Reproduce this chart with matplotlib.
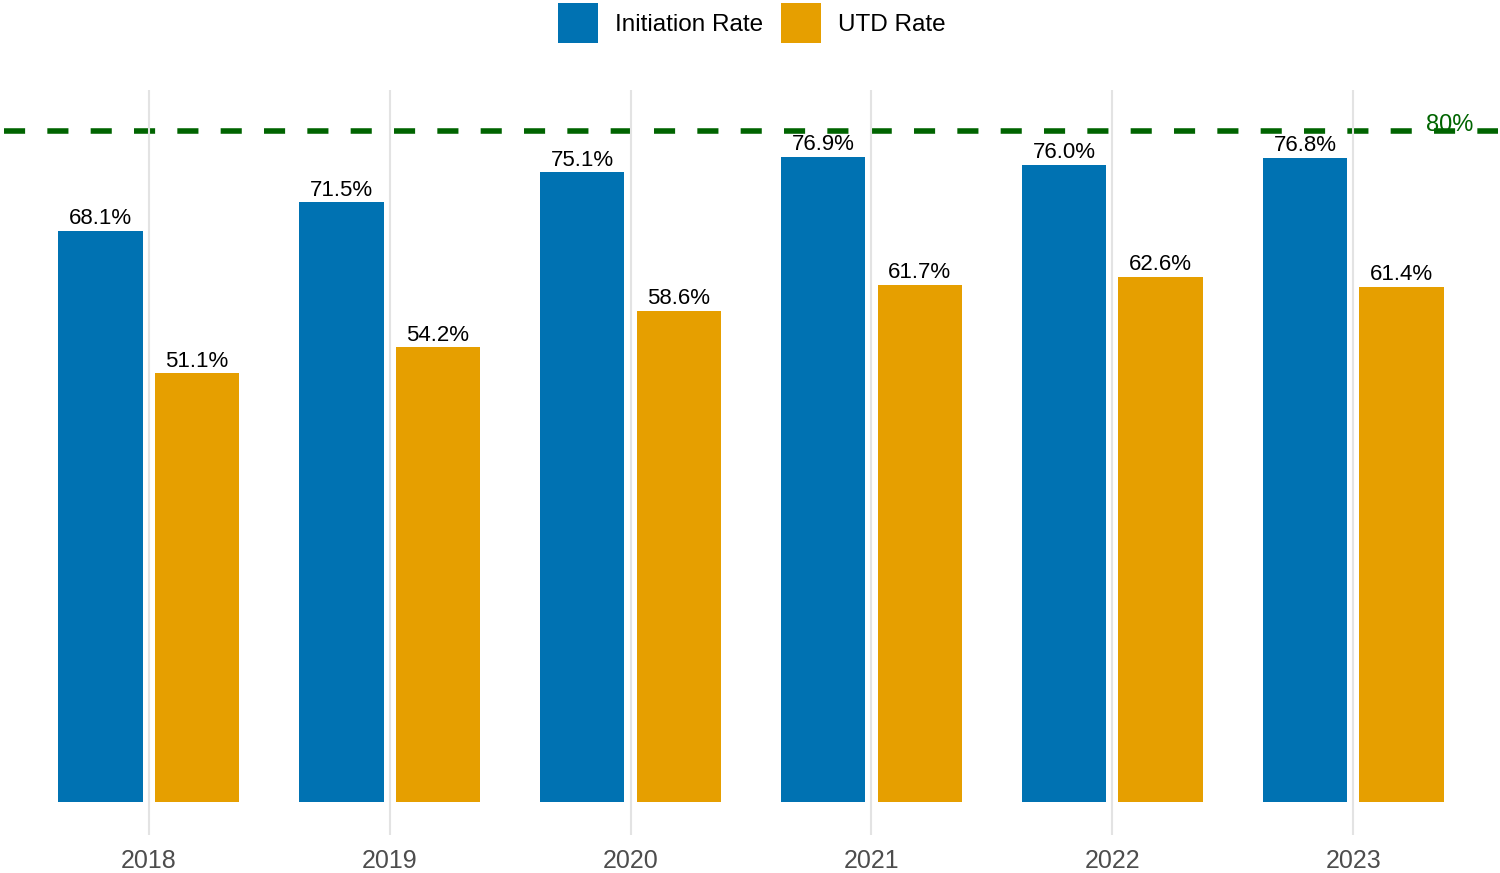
import matplotlib.pyplot as plt
import numpy as np

plt.rcParams['font.family'] = ['Liberation Sans', 'DejaVu Sans']

# vaccination rates by year
years = ["2018", "2019", "2020", "2021", "2022", "2023"]
initiation_rate = [68.1, 71.5, 75.1, 76.9, 76.0, 76.8]
utd_rate = [51.1, 54.2, 58.6, 61.7, 62.6, 61.4]
target = 80

fig = plt.figure(figsize=(15, 8.73), dpi=100)
ax = fig.add_axes([4 / 1500, 38 / 873, 1494 / 1500, 745 / 873])

x = np.arange(len(years))
bar_width = 0.35
offset = 0.2

b1 = ax.bar(x - offset, initiation_rate, width=bar_width, color="#0072B2", label="Initiation Rate", zorder=2)
b2 = ax.bar(x + offset, utd_rate, width=bar_width, color="#E69F00", label="UTD Rate", zorder=2)

for bars, vals in [(b1, initiation_rate), (b2, utd_rate)]:
    for bar, v in zip(bars, vals):
        ax.text(bar.get_x() + bar.get_width() / 2, v + 0.2, f"{v:.1f}%",
                ha="center", va="bottom", fontsize=16, color="black", zorder=3)

ax.axhline(target, color="#006400", linestyle=(0, (3.8, 4.0)), linewidth=4, zorder=1)
ax.text(5.4, target + 0.75, "80%", color="#006400", fontsize=17, ha="center", va="center", zorder=3)

ax.set_xlim(-0.6, 5.6)
ax.set_ylim(-3.93, 84.9)
ax.set_xticks(x)
ax.set_xticklabels(years, fontsize=18, color="#4D4D4D")
ax.tick_params(axis="x", length=0, pad=10)
ax.set_yticks([])
ax.grid(axis="x", color="#E3E3E3", linewidth=1.5, zorder=0)
for s in ax.spines.values():
    s.set_visible(False)

fig.legend(handles=[b1, b2], loc="center", bbox_to_anchor=(0.501, 1 - 23 / 873), ncol=2,
           frameon=False, fontsize=17.5, handlelength=1.65, handleheight=2.155,
           handletextpad=0.7, columnspacing=0.74, borderpad=0.2)

fig.savefig("out.png", dpi=100)
